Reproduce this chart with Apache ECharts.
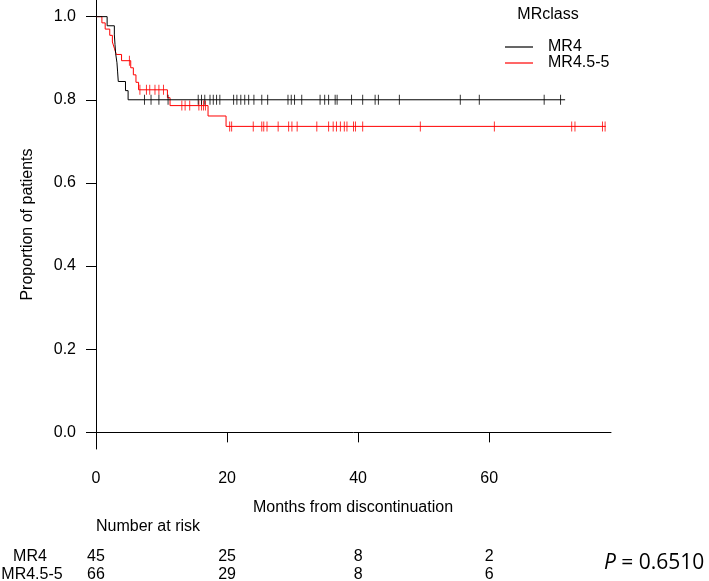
<!DOCTYPE html>
<html>
<head>
<meta charset="utf-8">
<script src="https://cdn.jsdelivr.net/npm/echarts@6/dist/echarts.min.js"></script>
<style>html,body{margin:0;padding:0;background:#fff;}#c{width:709px;height:581px;}</style>
</head>
<body>
<div id="c"></div>
<script>
// ---- data ----
const groups = ['MR4', 'MR4.5-5'];
// Kaplan-Meier steps: [month, survival after event]
const stepsMR4 = [[0,1],[1.7,0.978],[2.8,0.956],[2.9,0.933],[3.0,0.911],[3.2,0.889],[3.3,0.867],[3.4,0.844],[4.5,0.822],[4.9,0.8]];
const endMR4 = 71.6;
const censorMR4 = [7.4,8.4,9.6,11.0,15.6,16.1,16.6,17.4,17.9,18.4,18.9,21.0,21.5,22.1,22.7,23.3,24.1,25.3,26.2,29.3,29.8,30.3,31.4,34.2,34.9,35.5,36.5,36.8,39.0,40.7,42.6,43.1,46.3,55.6,58.5,68.4,70.9];
const stepsMR45 = [[0,1],[0.9,0.985],[1.4,0.97],[2.1,0.955],[2.5,0.939],[2.8,0.924],[3.1,0.909],[3.9,0.894],[5.3,0.877],[5.7,0.86],[6.1,0.842],[6.5,0.824],[10.9,0.805],[11.3,0.786],[17.1,0.761],[19.85,0.736]];
const endMR45 = 77.8;
const censorMR45 = [5.1,6.7,7.7,8.2,9.0,9.6,10.3,13.1,13.6,14.3,15.7,16.1,16.4,16.7,20.4,20.7,24.0,25.3,25.6,26.1,27.8,29.4,29.9,30.7,33.7,35.5,36.2,36.7,37.3,37.9,38.3,39.3,39.6,40.7,49.5,60.8,72.6,73.1,77.3,77.7];
const xTicks = [0,20,40,60];
const yTicks = [0,0.2,0.4,0.6,0.8,1.0];
const riskTimes = [0,20,40,60];
const riskMR4 = [45,25,8,2];
const riskMR45 = [66,29,8,6];
const pText = '0.6510';

// ---- build ----
function lineData(steps, end){ const d = steps.map(s=>[s[0],s[1]]); d.push([end, steps[steps.length-1][1]]); return d; }
function levelAt(steps, t){ let v = 1; for (const s of steps){ if (s[0] <= t) v = s[1]; } return v; }
function censData(steps, cs){ return cs.map(t=>[t, levelAt(steps,t)]); }

const FONT = 'Liberation Sans, Arial, sans-serif';
const chart = echarts.init(document.getElementById('c'), null, {renderer:'canvas'});
const colors = ['#000000', '#ff0000'];

const option = {
  animation: false,
  backgroundColor: '#fff',
  grid: {left: 96, right: 98, top: 0, height: 449, outerBoundsMode: 'none'},
  xAxis: {
    type: 'value', min: 0, max: 78.6,
    axisLine: {show: true, lineStyle: {color: '#000', width: 1}},
    axisTick: {show: true, length: 10, customValues: xTicks, lineStyle: {color: '#000'}},
    axisLabel: {customValues: xTicks, margin: 22, color: '#000', fontSize: 16, fontFamily: FONT},
    splitLine: {show: false}
  },
  yAxis: {
    type: 'value', min: -0.04, max: 1.04,
    axisLine: {show: true, lineStyle: {color: '#000', width: 1}},
    axisTick: {show: true, length: 10, customValues: yTicks, lineStyle: {color: '#000'}},
    axisLabel: {customValues: yTicks, margin: 20, color: '#000', fontSize: 16, fontFamily: FONT,
      formatter: v => Number(v).toFixed(1)},
    splitLine: {show: false}
  },
  legend: {
    data: groups, orient: 'vertical', left: 500, top: 34,
    icon: 'rect', itemWidth: 28, itemHeight: 1.2, itemGap: 0,
    textStyle: {color: '#000', fontSize: 16, fontFamily: FONT, padding: [0,0,0,10], lineHeight: 16}
  },
  series: [
    {name: groups[0], type: 'line', step: 'end', symbol: 'none', data: lineData(stepsMR4, endMR4),
      lineStyle: {color: colors[0], width: 1}, itemStyle: {color: colors[0]}, z: 3},
    {name: groups[1], type: 'line', step: 'end', symbol: 'none', data: lineData(stepsMR45, endMR45),
      lineStyle: {color: colors[1], width: 1}, itemStyle: {color: colors[1]}, z: 2},
    {name: 'c0', type: 'scatter', symbol: 'rect', symbolSize: [1, 10], data: censData(stepsMR4, censorMR4),
      itemStyle: {color: colors[0]}, z: 4},
    {name: 'c1', type: 'scatter', symbol: 'rect', symbolSize: [1, 10], data: censData(stepsMR45, censorMR45),
      itemStyle: {color: colors[1]}, z: 3}
  ]
};
chart.setOption(option);

// texts placed with the chart's own scale
const g = [];
const txt = (x, y, s, align, extra) => Object.assign({type: 'text', x: x, y: y,
  style: {text: s, fill: '#000', font: '16px ' + FONT, textAlign: align || 'center', textVerticalAlign: 'middle'}}, extra || {});
g.push(txt(28, 224.5, 'Proportion of patients', 'center', {rotation: Math.PI/2}));
g.push(txt(353, 508, 'Months from discontinuation', 'center'));
g.push(txt(96, 527, 'Number at risk', 'left'));
g.push(txt(548, 15, 'MRclass', 'center'));
g.push(txt(30, 557, groups[0], 'center'));
g.push(txt(32, 575, groups[1], 'center'));
riskTimes.forEach((t, i) => {
  const px = chart.convertToPixel({gridIndex: 0}, [t, 0])[0];
  g.push(txt(px, 557, String(riskMR4[i]), 'center'));
  g.push(txt(px, 575, String(riskMR45[i]), 'center'));
});
g.push({type: 'text', x: 604, y: 563, style: {
  text: '{i|P} = ' + pText, textAlign: 'left', textVerticalAlign: 'middle',
  font: '21px Open Sans, sans-serif', fill: '#000',
  rich: {i: {fontStyle: 'italic', fontSize: 21, fontFamily: 'Open Sans, sans-serif', fill: '#000'}}
}});
chart.setOption({graphic: g});
</script>
</body>
</html>
